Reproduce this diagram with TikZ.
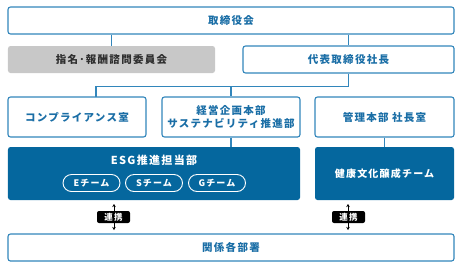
\documentclass[tikz,border=0pt]{standalone}
\usepackage{fontspec}
\setmainfont{Noto Sans CJK JP}[LetterSpace=12]
\usetikzlibrary{arrows.meta,calc}
\definecolor{bline}{HTML}{3286BB}
\definecolor{btext}{HTML}{1A6EA6}
\definecolor{dfill}{HTML}{05679E}
\definecolor{gfill}{HTML}{C8C8C8}
\definecolor{gtext}{HTML}{2E2E2E}
\begin{document}
\begin{tikzpicture}[x=1bp,y=-1bp,
  wbox/.style={draw=bline,line width=1.1bp,fill=white,rounded corners=2.5bp,text=btext,
    font=\fontsize{10.5bp}{13bp}\selectfont\bfseries,align=center,inner sep=0pt},
  gbox/.style={fill=gfill,rounded corners=2.5bp,text=gtext,
    font=\fontsize{10.5bp}{13bp}\selectfont\bfseries,inner sep=0pt},
  dbox/.style={fill=dfill,rounded corners=2.5bp,text=white,inner sep=0pt},
  pill/.style={draw=white,line width=0.9bp,rounded corners=8.5bp,text=white,
    minimum width=57bp,minimum height=17bp,inner sep=0pt,
    font=\fontsize{9bp}{11bp}\selectfont\bfseries},
  tag/.style={fill=black,rounded corners=2bp,text=white,minimum width=33bp,minimum height=12bp,
    inner sep=0pt,font=\fontsize{8.5bp}{9bp}\selectfont\bfseries},
  conn/.style={draw=bline,line width=1.1bp},
  link/.style={draw=black,line width=0.6bp,{Stealth[length=3bp,width=3.5bp]}-{Stealth[length=3bp,width=3.5bp]}}
]
\useasboundingbox (0,0) rectangle (461,269);
% row 1
\node[wbox,minimum width=446bp,minimum height=27bp] (board) at (231,20.5) {取締役会};
% row 2
\node[gbox,minimum width=207bp,minimum height=27bp] (nom) at (111.5,59.5) {指名･報酬諮問委員会};
\node[wbox,minimum width=211bp,minimum height=27bp] (ceo) at (348.5,59.5) {代表取締役社長};
% row 3
\node[wbox,minimum width=138bp,minimum height=40bp] (comp) at (77,117) {コンプライアンス室};
\node[wbox,minimum width=138bp,minimum height=40bp] (plan) at (231,117) {経営企画本部\\サステナビリティ推進部};
\node[wbox,minimum width=139bp,minimum height=40bp] (adm) at (384.5,117) {管理本部 社長室};
% row 4
\node[dbox,minimum width=292bp,minimum height=53bp] (esg) at (154,173.5) {};
\node[text=white,font=\fontsize{11bp}{13bp}\selectfont\bfseries,inner sep=0pt] (esgt) at (154,160.5) {ESG推進担当部};
\node[pill] (pe) at (91.5,183) {Eチーム};
\node[pill] (ps) at (154,183) {Sチーム};
\node[pill] (pg) at (217,183) {Gチーム};
\node[dbox,minimum width=139bp,minimum height=53bp,font=\fontsize{10bp}{12bp}\selectfont\bfseries] (team) at (384.5,173.5) {健康文化醸成チーム};
% row 5
\node[wbox,minimum width=446bp,minimum height=27bp] (dept) at (231,247.5) {関係各部署};
% connectors
\draw[conn] (board.south -| nom.north) -- (nom.north);
\draw[conn] (board.south -| ceo.north) -- (ceo.north);
\coordinate (hl) at ($(ceo.south)+(0,13)$);
\coordinate (c1) at (96,97);
\draw[conn] (ceo.south) -- (hl) -| (c1);
\draw[conn] (hl -| plan.north) -- (plan.north);
\draw[conn] (plan.south) -- (plan.south |- esg.north);
\draw[conn] (adm.south) -- (team.north);
% links
\coordinate (a1) at (114,204);
\coordinate (b1) at (114,230);
\coordinate (a2) at (348,204);
\coordinate (b2) at (348,230);
\draw[link] (a1) -- (b1);
\draw[link] (a2) -- (b2);
\node[tag] (t1) at (113.5,217) {連携};
\node[tag] (t2) at (348.5,217) {連携};
\end{tikzpicture}
\end{document}
